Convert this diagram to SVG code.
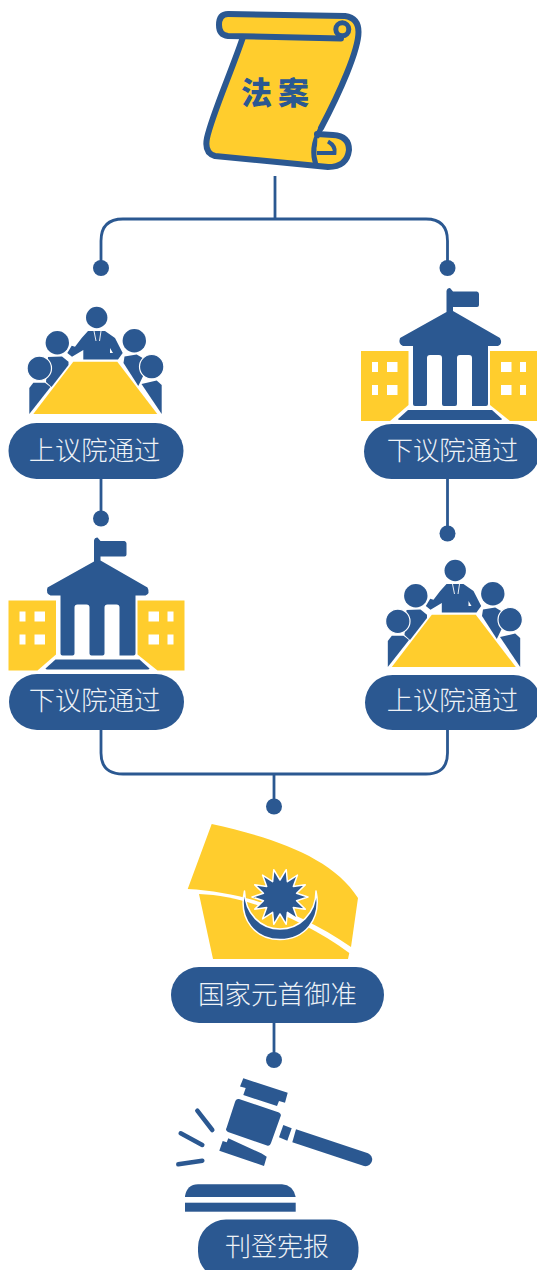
<svg xmlns="http://www.w3.org/2000/svg" width="537" height="1270" viewBox="0 0 537 1270">
<style>
.b{fill:#2b5891}
.y{fill:#ffcd2d}
.w{fill:#fff}
.pill{fill:#2b5891}
.t{font-family:"Noto Sans CJK SC","Noto Sans",sans-serif;font-size:26.300px;fill:#eef2f7;text-anchor:middle;font-weight:300}
.c{fill:none;stroke:#2b5891;stroke-width:2.800}
.s{fill:none;stroke:#2b5891;stroke-width:6;stroke-linejoin:round;stroke-linecap:round}
</style>
<defs>
<g id="people">
<polygon class="y" points="73.300,361.700 117.300,361.700 157.300,414 33.300,414"/>
<circle class="b" cx="96.700" cy="317.500" r="10.700"/>
<path class="b" d="M88,331L105,331L115,338L122.700,353L118,359.500L83.300,359.500L83.300,350L72,356.700L67.300,353L71.700,345.700L75,346.700L81.700,338Z"/>
<path d="M94,331L96,341M101,331L99.500,341" stroke="#fff" stroke-width="0.900" fill="none"/>
<path d="M110,348L113,353L110,353Z" class="w"/>
<path class="b" d="M48,357L62,356.500L68.500,361.700L68.500,365L51.500,387L46,382Z"/>
<circle class="b" cx="57.300" cy="342.700" r="11.700"/>
<path class="b" d="M29.300,414L29.300,388L33.300,382.700L45,382.700L50.500,387Z"/>
<circle class="b" cx="39.300" cy="368.300" r="12.200" stroke="#fff" stroke-width="1.200"/>
<path class="b" d="M123.500,363L124.500,356.500L136.700,354.500L146,360L146,370L138.300,386Z"/>
<circle class="b" cx="134.300" cy="340.700" r="11.700"/>
<path class="b" d="M141.500,384L156.700,380.500L161.700,385L161.700,414Z"/>
<circle class="b" cx="151.700" cy="366.700" r="12.200" stroke="#fff" stroke-width="1.200"/>
</g>
<g id="building">
<polygon class="y" points="361,351 408.500,351 408.500,405 390,421 361,421"/>
<polygon class="y" points="490,351 537,351 537,421 510,421 490,405"/>
<g class="w">
<rect x="372" y="362" width="6" height="10"/><rect x="387" y="362" width="10.500" height="10"/>
<rect x="372" y="385" width="6" height="10"/><rect x="387" y="385" width="10.500" height="10"/>
<rect x="501" y="362" width="10.500" height="10"/><rect x="520" y="362" width="6" height="10"/>
<rect x="501" y="385" width="10.500" height="10"/><rect x="520" y="385" width="6" height="10"/>
</g>
<path class="b" d="M446.500,291Q447,288 450,288L453,291.500L477,291.500Q479,292 479,294L479,305Q479,307 477,307L453,307L453,311L500,338Q503,344 498,346L488,346L488,404Q488,406 486,406L472,406L472,358Q472,355 469,355L460,355Q457,355 457,358L457,404Q457,406 455,406L444,406Q442,406 442,404L442,358Q442,355 439,355L430,355Q427,355 427,358L427,404Q427,406 425,406L415,406Q413,406 413,404L413,346L403,346Q398,344 400,338L446.500,312Z"/>
<path class="b" d="M408,410L492,410L502,419Q502,420 500,420L400,420Q398,420 398,419Z"/>
</g>
</defs>

<g id="connectors">
<path class="c" d="M275,176V219"/>
<path class="c" d="M101,268V241Q101,219 123,219H426Q447.500,219 447.500,241V268"/>
<circle class="b" cx="101" cy="268" r="8"/><circle class="b" cx="447.500" cy="268" r="8"/>
<path class="c" d="M101,478V518"/><circle class="b" cx="101" cy="518.500" r="8"/>
<path class="c" d="M447.500,478V533"/><circle class="b" cx="447.500" cy="533.500" r="8"/>
<path class="c" d="M101,729V753Q101,774 123,774H426Q447.500,774 447.500,753V729"/>
<path class="c" d="M274,774V806"/><circle class="b" cx="274" cy="806.500" r="8"/>
<path class="c" d="M274,1022V1060"/><circle class="b" cx="274" cy="1060" r="8"/>
</g>

<g id="bill">
<path class="y" d="M228,14L345,16Q358.500,18 358.500,32C358.500,50 340,95 320,133L333,135Q349,136 349,150Q347,167 328,167L215,156Q204,153 207,138C212,115 232,70 243,37L228,36Q219,35 219,25Q219,14 228,14Z"/>
<path class="s" d="M243,37C232,70 212,115 207,138Q204,153 215,156L328,167Q347,167 349,150Q349,136 333,135L317,134"/>
<path class="s" d="M321,128C340,92 358.500,50 358.500,32Q358.500,18 345,16L228,14Q219,14 219,25Q219,35 228,36L341,38.500"/>
<circle class="y" cx="342.300" cy="29.300" r="6.500" stroke="#2b5891" stroke-width="5"/>
<path class="s" d="M320,130Q310,148 316,165" style="stroke-width:5"/>
<path d="M317,153H334.500Q336,146 328,141.500" fill="none" stroke="#2b5891" stroke-width="4"/>
<rect class="y" x="317.300" y="138.300" width="8.700" height="9"/>
<text x="278" y="104" font-family="'Noto Sans CJK SC',sans-serif" font-size="31" font-weight="900" fill="#2b5891" text-anchor="middle" letter-spacing="6">法案</text>
</g>

<g id="senate-1">
<use href="#people"/>
<rect class="pill" x="8.500" y="423" width="175" height="56" rx="28"/>
<text class="t" x="94.500" y="460">上议院通过</text>
</g>
<g id="house-1">
<use href="#building"/>
<rect class="pill" x="364" y="424" width="176" height="55" rx="27.500"/>
<text class="t" x="452.500" y="460">下议院通过</text>
</g>
<g id="house-2">
<use href="#building" transform="translate(-352.500,249.500)"/>
<rect class="pill" x="9" y="674" width="175" height="56" rx="28"/>
<text class="t" x="94.500" y="710">下议院通过</text>
</g>
<g id="senate-2">
<use href="#people" transform="translate(358.500,253)"/>
<rect class="pill" x="365" y="675" width="176" height="55" rx="27.500"/>
<text class="t" x="452.500" y="710">上议院通过</text>
</g>

<g id="royal-assent">
<path class="y" d="M211.700,824C275,838 333,858 358,898L351,947C300,912 245,892 187.700,889Z"/>
<path class="y" d="M199,894C250,896 305,921 349.300,953L348,959L213,959Z"/>
<path class="b" stroke="#fff" stroke-width="1.500" stroke-linejoin="round" d="M244.500,891C238,920 256,939.500 280,939.500C304,939.500 322,920 316,891C316,914 299,929 280,929C261,929 245,914 244.500,891Z"/>
<polygon class="b" stroke="#fff" stroke-width="1.500" stroke-linejoin="round" transform="translate(280,897)" points="0,-17 6.230,-27.300 7.380,-15.320 17.460,-21.890 13.290,-10.600 25.230,-12.150 16.570,-3.780 28,0 16.570,3.780 25.230,12.150 13.290,10.600 17.460,21.890 7.380,15.320 6.230,27.300 0,17 -6.230,27.300 -7.380,15.320 -17.460,21.890 -13.290,10.600 -25.230,12.150 -16.570,3.780 -28,0 -16.570,-3.780 -25.230,-12.150 -13.290,-10.600 -17.460,-21.890 -7.380,-15.320 -6.230,-27.300"/>
<rect class="pill" x="171" y="967" width="213" height="56" rx="28"/>
<text class="t" x="277.500" y="1004" style="font-size:26.500px">国家元首御准</text>
</g>

<g id="gazette">
<path class="b" d="M239,1099L279,1112.500Q281.500,1114 280.700,1116L271,1143Q270,1146.500 267,1145.500L228,1132Q225,1130.500 226.500,1128L235,1102Q236,1098.500 239,1099Z"/>
<polygon class="b" points="243.300,1078.300 287.700,1092.700 285,1102.700 279,1101 277,1106 243.300,1095 245.700,1088 240,1086.500"/>
<polygon class="b" points="228.300,1138.300 261.700,1153.500 266.700,1156.700 264,1166 219.300,1150.700 222.700,1141 226.700,1142.300"/>
<polygon class="b" points="283.300,1125 291.700,1128.300 287.300,1140.700 279,1137.300"/>
<path class="b" d="M296,1129.300L368,1153.300Q373,1156 372,1161Q370,1167 364,1166L292.300,1142.300Z"/>
<path d="M197.300,1110.700L212.300,1130M180.700,1133.300L202.300,1145M178.300,1164.300L202.300,1160.700" fill="none" stroke="#2b5891" stroke-width="4.500" stroke-linecap="round"/>
<path class="b" d="M185,1197V1196Q187,1184.500 198,1184.300H282Q293,1185 295.700,1197Z"/>
<rect class="b" x="185" y="1202.700" width="110.700" height="9"/>
<rect class="pill" x="198" y="1219.500" width="160.500" height="60" rx="28"/>
<text class="t" x="277" y="1256" style="font-size:26px">刊登宪报</text>
</g>
</svg>
